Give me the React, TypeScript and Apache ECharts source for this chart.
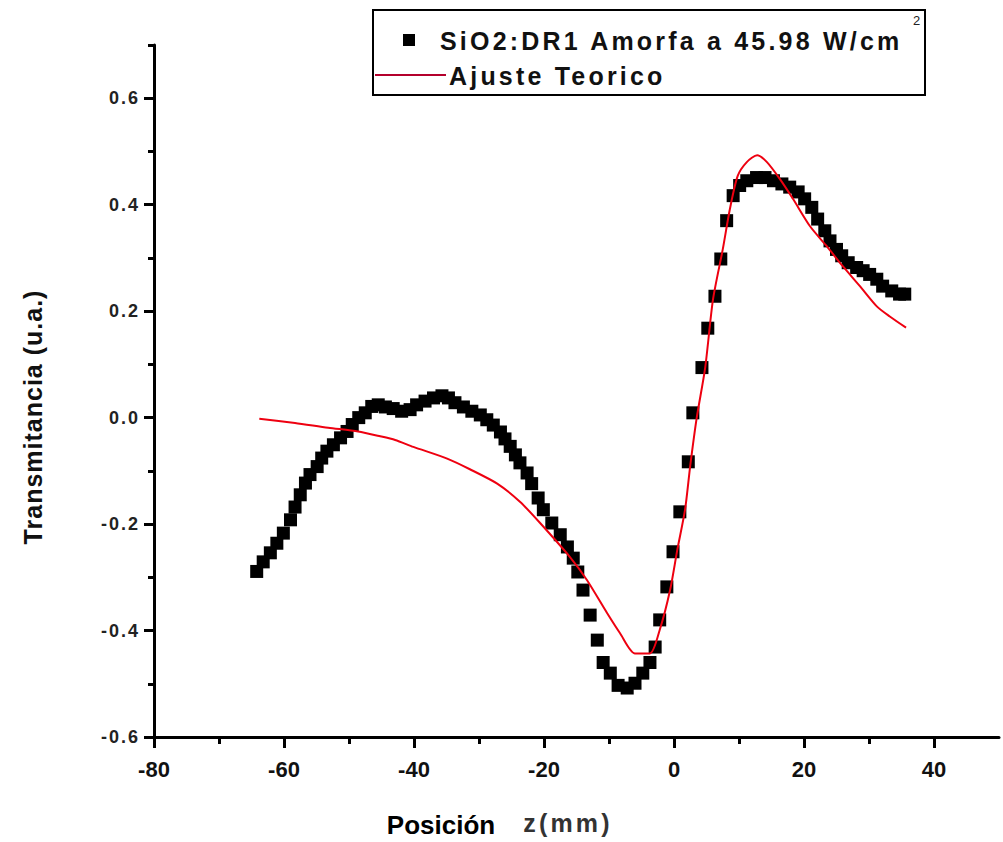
import React, { useEffect, useRef } from "react";
import * as echarts from "echarts";

// Measured data: position z (mm) and transmittance (a.u.)
const dataX = [
  -64.2, -63.2, -62.1, -61.1, -60.1, -59.0, -58.3, -57.5, -56.7, -56.0,
  -54.9, -54.2, -53.4, -52.4, -51.3, -50.3, -49.5, -48.5, -47.5, -46.5,
  -45.5, -44.4, -43.2, -41.9, -40.6, -39.6, -38.3, -37.0, -35.7, -34.7,
  -33.7, -32.4, -31.1, -29.8, -28.8, -27.8, -26.7, -26.0, -25.2, -24.4,
  -23.7, -22.6, -21.9, -20.9, -20.1, -18.8, -17.5, -16.4, -15.5, -14.8,
  -14.0, -12.9, -11.8, -10.9, -9.8, -8.6, -7.2, -6.0, -4.8, -3.7,
  -2.9, -2.2, -1.1, -0.15, 0.9, 2.2, 2.9, 4.3, 5.2, 6.3,
  7.2, 8.1, 9.1, 10.1, 11.2, 12.7, 14.0, 15.3, 16.6, 17.8,
  19.1, 20.1, 21.2, 22.1, 23.2, 24.0, 25.0, 25.8, 26.8, 28.1,
  29.1, 30.1, 31.2, 32.1, 33.5, 34.7, 35.5,
];
const dataY = [
  -0.289, -0.271, -0.254, -0.236, -0.217, -0.192, -0.168, -0.145, -0.123, -0.107,
  -0.092, -0.076, -0.063, -0.051, -0.038, -0.026, -0.013, 0.0, 0.009, 0.021,
  0.024, 0.02, 0.017, 0.012, 0.015, 0.024, 0.031, 0.037, 0.041, 0.037,
  0.028, 0.02, 0.012, 0.005, -0.004, -0.014, -0.027, -0.04, -0.054, -0.07,
  -0.085, -0.104, -0.124, -0.151, -0.173, -0.198, -0.22, -0.243, -0.264, -0.29,
  -0.324, -0.371, -0.418, -0.46, -0.48, -0.503, -0.508, -0.499, -0.48, -0.46,
  -0.431, -0.38, -0.318, -0.252, -0.177, -0.083, 0.009, 0.094, 0.168, 0.228,
  0.298, 0.37, 0.417, 0.436, 0.445, 0.451, 0.451, 0.445, 0.439, 0.433,
  0.424, 0.411, 0.395, 0.373, 0.351, 0.332, 0.316, 0.304, 0.291, 0.282,
  0.276, 0.269, 0.26, 0.247, 0.238, 0.232, 0.232,
];

// Theoretical fit curve
const fitX = [
  -63.8, -58.3, -53.2, -48.6, -45.2, -42.9, -40.1, -34.9, -31.4, -27.2,
  -23.7, -20.6, -16.0, -13.4, -10.3, -8.3, -6.0, -3.7, -2.2, -0.6,
  0.5, 1.7, 2.5, 3.5, 4.8, 6.0, 7.5, 8.6, 9.8, 11.2,
  12.8, 14.3, 16.3, 18.3, 20.9, 23.5, 26.0, 28.6, 31.2, 33.2, 35.7,
];
const fitY = [
  -0.002, -0.01, -0.019, -0.026, -0.035, -0.042, -0.055, -0.077, -0.097, -0.124,
  -0.158, -0.198, -0.262, -0.305, -0.367, -0.405, -0.443, -0.443, -0.399, -0.324,
  -0.249, -0.173, -0.09, 0.0, 0.094, 0.222, 0.316, 0.392, 0.454, 0.48,
  0.493, 0.48, 0.448, 0.411, 0.36, 0.322, 0.284, 0.247, 0.209, 0.19, 0.169,
];

const seriesNames = ["SiO2:DR1 Amorfa a 45.98 W/cm", "Ajuste Teorico"];
const xTicks = [-80, -60, -40, -20, 0, 20, 40];
const xMinorTicks = [-70, -50, -30, -10, 10, 30];
const yTicks = [-0.6, -0.4, -0.2, 0, 0.2, 0.4, 0.6];
const yMinorTicks = [-0.5, -0.3, -0.1, 0.1, 0.3, 0.5, 0.7];
const xTitle = "Posición";
const xUnit = "z(mm)";
const yTitle = "Transmitancia (u.a.)";

export default function App() {
  const ref = useRef<HTMLDivElement>(null);

  useEffect(() => {
    if (!ref.current) return;
    const chart = echarts.init(ref.current, null, { renderer: "svg" });

    const axisFontY = {
      fontFamily: "ltrsp2, Liberation Sans, Arial, sans-serif",
      fontWeight: "bold",
      fontSize: 18,
      color: "#222",
    };
    const axisFontX = {
      fontFamily: "Liberation Sans Narrow, Arial Narrow, sans-serif",
      fontWeight: "bold",
      fontSize: 22,
      color: "#111",
    };

    const option: any = {
      animation: false,
      backgroundColor: "#fff",
      grid: {
        left: 154,
        top: 45,
        width: 845,
        height: 692,
        containLabel: false,
        outerBoundsMode: "none",
      },
      xAxis: [
        {
          type: "value",
          min: -80,
          max: 50,
          interval: 20,
          position: "bottom",
          axisLine: { onZero: false, lineStyle: { color: "#000", width: 3 } },
          axisTick: {
            customValues: xTicks,
            length: 11,
            lineStyle: { color: "#000", width: 3 },
          },
          axisLabel: {
            customValues: xTicks,
            margin: 21,
            ...axisFontX,
            formatter: (v: number) => (v > 40 ? "" : String(v)),
          },
          splitLine: { show: false },
        },
        {
          type: "value",
          min: -80,
          max: 50,
          interval: 10,
          position: "bottom",
          axisLine: { show: false, onZero: false },
          axisTick: {
            customValues: xMinorTicks,
            length: 7,
            lineStyle: { color: "#000", width: 3 },
          },
          axisLabel: { show: false },
          splitLine: { show: false },
        },
      ],
      yAxis: [
        {
          type: "value",
          min: -0.6,
          max: 0.7,
          interval: 0.2,
          position: "left",
          axisLine: { onZero: false, lineStyle: { color: "#000", width: 3 } },
          axisTick: {
            customValues: yTicks,
            length: 10,
            lineStyle: { color: "#000", width: 3 },
          },
          axisLabel: {
            customValues: yTicks,
            margin: 14,
            ...axisFontY,
            formatter: (v: number) => (v > 0.65 ? "" : v.toFixed(1)),
          },
          splitLine: { show: false },
        },
        {
          type: "value",
          min: -0.6,
          max: 0.7,
          interval: 0.1,
          position: "left",
          axisLine: { show: false, onZero: false },
          axisTick: {
            customValues: yMinorTicks,
            length: 6,
            lineStyle: { color: "#000", width: 3 },
          },
          axisLabel: { show: false },
          splitLine: { show: false },
        },
      ],
      series: [
        {
          name: seriesNames[0],
          type: "scatter",
          xAxisIndex: 0,
          yAxisIndex: 0,
          symbol: "rect",
          symbolSize: 13,
          itemStyle: { color: "#000", opacity: 1 },
          z: 2,
          data: dataX.map((x, i) => [x, dataY[i]]),
        },
        {
          name: seriesNames[1],
          type: "line",
          xAxisIndex: 0,
          yAxisIndex: 0,
          showSymbol: false,
          symbol: "none",
          smooth: 0.25,
          lineStyle: { color: "#ee0010", width: 2 },
          z: 3,
          data: fitX.map((x, i) => [x, fitY[i]]),
        },
      ],
      graphic: [
        {
          type: "rect",
          shape: { x: 373, y: 10, width: 552, height: 85 },
          style: { fill: "#fff", stroke: "#000", lineWidth: 2 },
          z: 10,
        },
        {
          type: "rect",
          shape: { x: 403, y: 34, width: 12, height: 12 },
          style: { fill: "#000" },
          z: 11,
        },
        {
          type: "text",
          x: 440,
          y: 41,
          style: {
            text: seriesNames[0],
            fontFamily: "ltrsp3, Liberation Sans, Arial, sans-serif",
            fontWeight: "bold",
            fontSize: 25,
            fill: "#111",
            textAlign: "left",
            textVerticalAlign: "middle",
          },
          z: 11,
        },
        {
          type: "text",
          x: 913,
          y: 20,
          style: {
            text: "2",
            fontFamily: "Liberation Sans, Arial, sans-serif",
            fontSize: 13,
            fill: "#222",
            textAlign: "left",
            textVerticalAlign: "middle",
          },
          z: 11,
        },
        {
          type: "line",
          shape: { x1: 375, y1: 75, x2: 446, y2: 75 },
          style: { stroke: "#b4002c", lineWidth: 2 },
          z: 11,
        },
        {
          type: "text",
          x: 449,
          y: 76,
          style: {
            text: seriesNames[1],
            fontFamily: "ltrsp3, Liberation Sans, Arial, sans-serif",
            fontWeight: "bold",
            fontSize: 25,
            fill: "#111",
            textAlign: "left",
            textVerticalAlign: "middle",
          },
          z: 11,
        },
        {
          type: "text",
          x: 33,
          y: 417,
          rotation: Math.PI / 2,
          style: {
            text: yTitle,
            fontFamily: "ltrsp1, Liberation Sans, Arial, sans-serif",
            fontWeight: "bold",
            fontSize: 25,
            fill: "#111",
            textAlign: "center",
            textVerticalAlign: "middle",
          },
        },
        {
          type: "text",
          x: 441,
          y: 825,
          style: {
            text: xTitle,
            fontFamily: "Liberation Sans, Arial, sans-serif",
            fontWeight: "bold",
            fontSize: 26,
            fill: "#000",
            textAlign: "center",
            textVerticalAlign: "middle",
          },
        },
        {
          type: "text",
          x: 568,
          y: 823,
          style: {
            text: xUnit,
            fontFamily: "ltrsp3, Liberation Sans, Arial, sans-serif",
            fontWeight: "bold",
            fontSize: 25,
            fill: "#333",
            textAlign: "center",
            textVerticalAlign: "middle",
          },
        },
      ],
    };

    chart.setOption(option);
    return () => chart.dispose();
  }, []);

  return (
    <>
      <style>{`
        text[style*="ltrsp3"] { letter-spacing: 3.2px; }
        text[style*="ltrsp2"] { letter-spacing: 2px; }
        text[style*="ltrsp1"] { letter-spacing: 1px; }
      `}</style>
      <div
        ref={ref}
        style={{ position: "fixed", left: 0, top: 0, width: 1003, height: 842, background: "#fff" }}
      />
    </>
  );
}
